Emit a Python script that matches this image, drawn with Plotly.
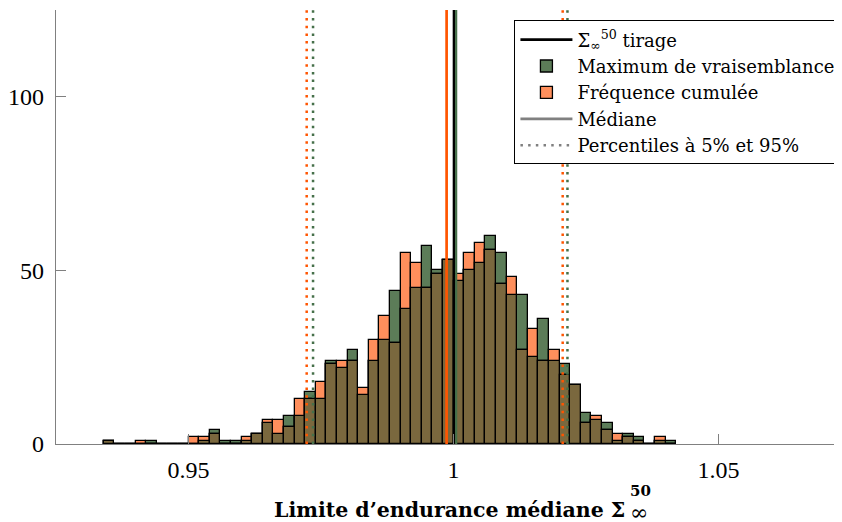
import numpy as np
import plotly.graph_objects as go

# ---- data -------------------------------------------------------------
bin_start = 0.934
bin_width = 0.002
# counts per bin (54 bins from 0.934 to 1.042)
counts_mv = [1, 0, 0, 0, 1, 0, 0, 0, 0, 1, 4, 1, 1, 1, 3, 6, 3, 8, 8, 15,
             13, 24, 22, 27, 14, 24, 30, 44, 39, 45, 57, 50, 53, 47, 50, 52, 60, 55, 43, 43,
             25, 36, 24, 23, 17, 9, 7, 6, 1, 3, 2, 0, 1, 1]
counts_fc = [1, 0, 0, 1, 0, 0, 0, 0, 2, 2, 3, 0, 0, 2, 3, 7, 7, 5, 13, 13,
             18, 23, 24, 24, 16, 30, 37, 29, 55, 52, 45, 49, 53, 49, 55, 58, 56, 46, 48, 27,
             33, 24, 27, 20, 17, 6, 8, 4, 3, 2, 1, 0, 2, 0]
sigma_tirage = 1.0001
median_mv = 1.0005
median_fc = 0.9987
percentiles_mv = [0.9735, 1.0215]
percentiles_fc = [0.9723, 1.0206]
x_ticks = [0.95, 1.0, 1.05]
x_tick_labels = ["0.95", "1", "1.05"]
y_ticks = [0, 50, 100]

# ---- styling ------------------------------------------------------------
GREEN = "#5c7c58"
ORANGE = "#ff8f5c"
OVERLAP = "#7a683e"
GREEN_LINE = "#46704a"
ORANGE_LINE = "#ff5500"
FONT = "Liberation Serif"
FONT2 = "DejaVu Serif"
YMAX = 125

n = len(counts_mv)
centers = bin_start + bin_width * (np.arange(n) + 0.5)
g = np.array(counts_mv)
o = np.array(counts_fc)
overlap = np.minimum(g, o)

fig = go.Figure()

bar_line = dict(color="black", width=1.3)
fig.add_trace(go.Bar(x=centers, y=g, width=bin_width, marker=dict(color=GREEN, line=bar_line),
                     name="Maximum de vraisemblance", legendrank=2))
fig.add_trace(go.Bar(x=centers, y=o, width=bin_width, marker=dict(color=ORANGE, line=bar_line),
                     name="Fréquence cumulée", legendrank=3))
fig.add_trace(go.Bar(x=centers, y=overlap, width=bin_width, marker=dict(color=OVERLAP, line=bar_line),
                     showlegend=False, hoverinfo="skip"))

def vline(xv, color, width, dash="solid", name=None, show=False, rank=10):
    fig.add_trace(go.Scatter(x=[xv, xv], y=[0, YMAX], mode="lines",
                             line=dict(color=color, width=width, dash=dash),
                             name=name, showlegend=show, legendrank=rank, hoverinfo="skip"))

DOT = "2.5px,5.2px"
vline(median_fc, ORANGE_LINE, 2.7)
vline(sigma_tirage, "black", 2.7, name="Σ<sub>∞</sub><sup>50</sup> tirage", show=True, rank=1)
vline(median_mv, GREEN_LINE, 2.2)
for p in percentiles_fc:
    vline(p, ORANGE_LINE, 2.5, dash=DOT)
for p in percentiles_mv:
    vline(p, GREEN_LINE, 2.5, dash=DOT)

# legend-only entries
fig.add_trace(go.Scatter(x=[0.9], y=[-10], mode="lines", line=dict(color="#808080", width=2.7),
                         name="Médiane", legendrank=4, hoverinfo="skip"))
fig.add_trace(go.Scatter(x=[0.9], y=[-10], mode="lines", line=dict(color="#808080", width=2.5, dash=DOT),
                         name="Percentiles à 5% et 95%", legendrank=5, hoverinfo="skip"))

# The page body has an 8px margin, so the figure is 8px smaller than the window
fig.update_layout(
    width=834, height=514,
    margin=dict(l=48, r=0, t=2, b=78, autoexpand=False),
    barmode="overlay", bargap=0,
    plot_bgcolor="white", paper_bgcolor="white",
    font=dict(family=FONT, color="black"),
    showlegend=True,
    legend=dict(x=0.998, xanchor="right", y=0.976, yanchor="top",
                bgcolor="white", bordercolor="black", borderwidth=1,
                font=dict(size=18, family=FONT2, color="black"), tracegroupgap=0,
                itemwidth=52),
    xaxis=dict(range=[0.925, 1.0733], tickvals=x_ticks, ticktext=x_tick_labels,
               ticks="inside", ticklen=10, tickwidth=1, tickcolor="#808080",
               showline=True, linecolor="#808080", linewidth=1.2,
               showgrid=False, zeroline=False, tickfont=dict(size=24, family=FONT),
               ticklabelstandoff=4),
    yaxis=dict(range=[0, YMAX], tickvals=y_ticks,
               ticks="inside", ticklen=10, tickwidth=1, tickcolor="#808080",
               showline=True, linecolor="#808080", linewidth=1.2,
               showgrid=False, zeroline=False, tickfont=dict(size=24, family=FONT),
               ticklabelstandoff=6),
)

# x-axis title with stacked super/subscript
fig.add_annotation(text="<b>Limite d’endurance médiane Σ</b>", xref="paper", yref="paper",
                   x=0.7265, y=-0.151, xanchor="right", yanchor="middle", showarrow=False,
                   font=dict(size=20.5, family=FONT2))
fig.add_annotation(text="<b>50</b>", xref="paper", yref="paper",
                   x=0.7277, y=-0.108, xanchor="left", yanchor="middle", showarrow=False,
                   font=dict(size=15, family=FONT2))
fig.add_annotation(text="∞", xref="paper", yref="paper",
                   x=0.7277, y=-0.158, xanchor="left", yanchor="middle", showarrow=False,
                   font=dict(size=22, family=FONT2))

fig.write_html("out.html")
